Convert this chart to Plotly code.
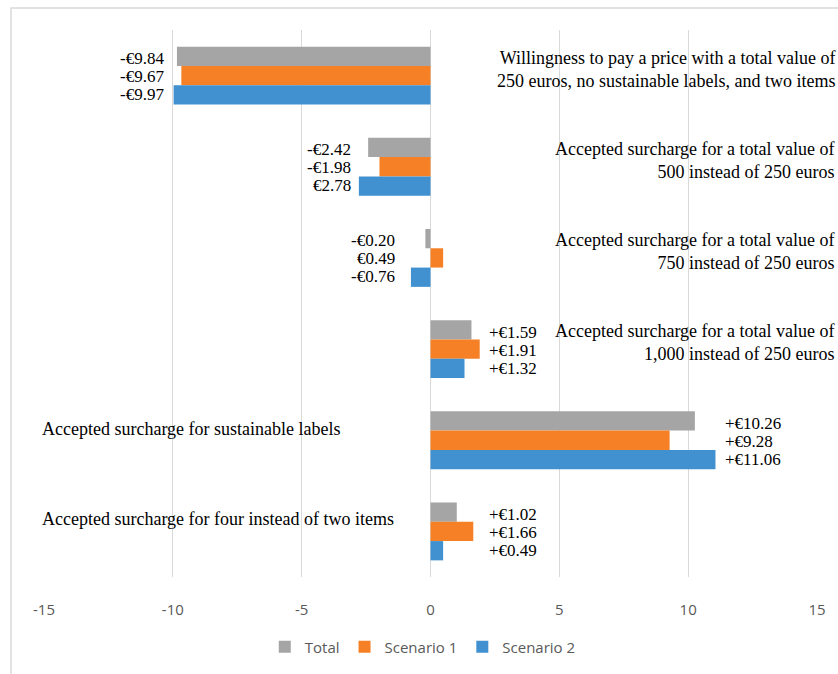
import plotly.graph_objects as go

categories = [
    "Willingness to pay a price with a total value of<br>250 euros, no sustainable labels, and two items",
    "Accepted surcharge for a total value of<br>500 instead of 250 euros",
    "Accepted surcharge for a total value of<br>750 instead of 250 euros",
    "Accepted surcharge for a total value of<br>1,000 instead of 250 euros",
    "Accepted surcharge for sustainable labels",
    "Accepted surcharge for four instead of two items",
]
series_names = ["Total", "Scenario 1", "Scenario 2"]
total = [-9.84, -2.42, -0.20, 1.59, 10.26, 1.02]
scenario1 = [-9.67, -1.98, 0.49, 1.91, 9.28, 1.66]
scenario2 = [-9.97, -2.78, -0.76, 1.32, 11.06, 0.49]
total_labels = ["-€9.84", "-€2.42", "-€0.20", "+€1.59", "+€10.26", "+€1.02"]
scenario1_labels = ["-€9.67", "-€1.98", "€0.49", "+€1.91", "+€9.28", "+€1.66"]
scenario2_labels = ["-€9.97", "€2.78", "-€0.76", "+€1.32", "+€11.06", "+€0.49"]
x_ticks = [-15, -10, -5, 0, 5, 10, 15]

colors = ["#A5A5A5", "#F58025", "#4191D0"]
values = [total, scenario1, scenario2]
labels = [total_labels, scenario1_labels, scenario2_labels]
cat_ids = ["c%d" % i for i in range(len(categories))]

SERIF = "Liberation Serif, Times New Roman, serif"
SANS = "Liberation Sans Narrow, Arial Narrow, Open Sans, sans-serif"

fig = go.Figure()
for name, vals, col in zip(series_names, values, colors):
    fig.add_trace(go.Bar(
        y=cat_ids, x=vals, name=name, orientation="h",
        marker=dict(color=col, line=dict(width=0)),
        hoverinfo="skip",
    ))

# data labels placed next to the outer end of each group
label_side = ["left", "left", "left", "right", "right", "right"]
label_xshift = [-8, -6, -14, 7, 8, 14]
series_yshift = [17, -1, -19]
ann = []
for i, cid in enumerate(cat_ids):
    group_vals = [v[i] for v in values]
    if label_side[i] == "left":
        xref_val = min(group_vals)
        anchor = "right"
    else:
        xref_val = max(group_vals)
        anchor = "left"
    for s in range(3):
        ann.append(dict(
            x=xref_val, y=cid, xref="x", yref="y", text=labels[s][i],
            showarrow=False, xanchor=anchor, yanchor="middle",
            xshift=label_xshift[i], yshift=series_yshift[s],
            font=dict(family=SERIF, size=17, color="#000000"),
        ))

# category labels
cat_pos = ["right", "right", "right", "right", "left", "left"]
cat_yshift = [6, 6, 6, 7, 11, 12]
for i, cid in enumerate(cat_ids):
    if cat_pos[i] == "right":
        ann.append(dict(
            x=1.0259, y=cid, xref="paper", yref="y", text=categories[i],
            showarrow=False, xanchor="right", yanchor="middle", align="right",
            yshift=cat_yshift[i],
            font=dict(family=SERIF, size=18, color="#000000"),
        ))
    else:
        ann.append(dict(
            x=-0.005, y=cid, xref="paper", yref="y", text=categories[i],
            showarrow=False, xanchor="left", yanchor="middle", align="left",
            yshift=cat_yshift[i],
            font=dict(family=SERIF, size=18, color="#000000"),
        ))

fig.update_layout(
    width=838, height=674,
    margin=dict(l=44, r=21, t=30, b=96),
    paper_bgcolor="white", plot_bgcolor="white",
    barmode="group", bargap=0.365, bargroupgap=0,
    annotations=ann,
    showlegend=True,
    legend=dict(
        orientation="h", x=0.49, xanchor="center", y=-0.126, yanchor="middle",
        font=dict(family=SANS, size=15, color="#595959"),
        itemwidth=30, traceorder="normal",
    ),
    shapes=[dict(
        type="rect", xref="paper", yref="paper",
        x0=-0.0427, x1=1.05, y0=-0.2, y1=1.040,
        line=dict(color="#D9D9D9", width=1.5), fillcolor="rgba(0,0,0,0)",
        layer="below",
    )],
)
fig.update_xaxes(
    range=[-15, 15], tickvals=x_ticks, ticktext=[str(t) for t in x_ticks],
    showgrid=True, gridcolor="#D9D9D9", gridwidth=1,
    zeroline=True, zerolinecolor="#D9D9D9", zerolinewidth=1,
    showline=False, ticks="", ticklabelstandoff=22,
    tickfont=dict(family=SANS, size=15, color="#595959"),
    fixedrange=True,
)
fig.update_yaxes(
    autorange="reversed", showticklabels=False, showgrid=False,
    zeroline=False, showline=False, ticks="", fixedrange=True,
)

fig.write_html("out.html")
